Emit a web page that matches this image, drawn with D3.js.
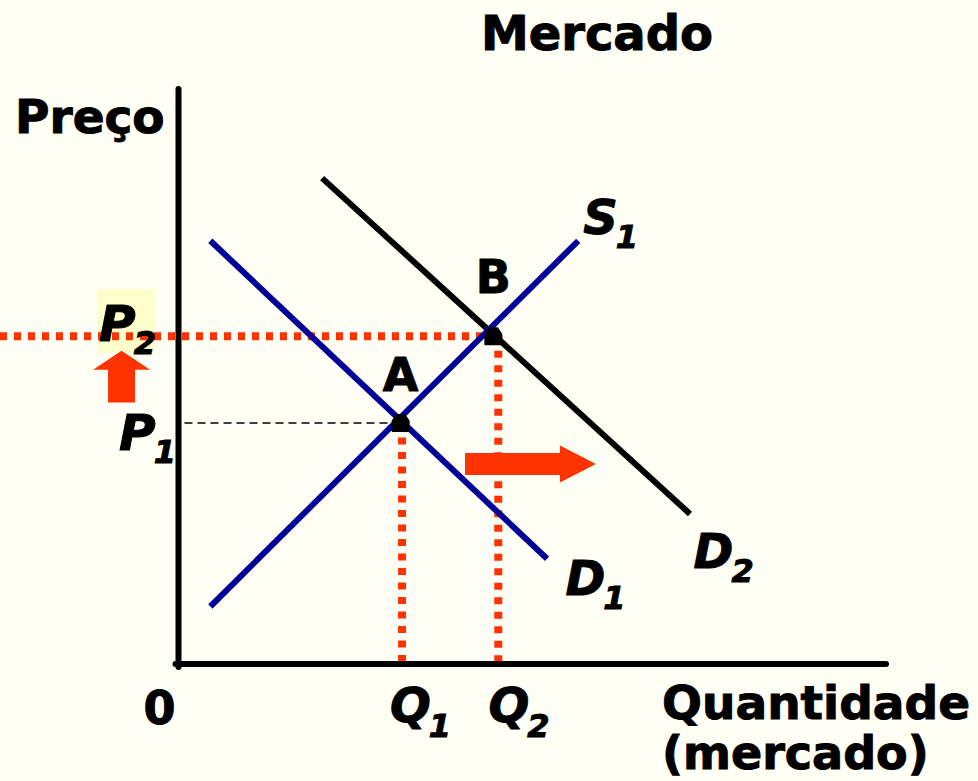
<!DOCTYPE html>
<html lang="pt">
<head>
<meta charset="UTF-8">
<title>Mercado</title>
<script src="https://d3js.org/d3.v7.min.js"></script>
<style>
  body { margin: 0; background: #fffff5; }
  text { font-family: "DejaVu Sans", Verdana, sans-serif; font-weight: bold; fill: #000; stroke: #000; stroke-width: 1; }
</style>
</head>
<body>
<svg width="978" height="781" id="mainsvg"></svg>
<script>
// curves in (quantity, price) units
const supply1 = [{q: 0.45, p: 1.0}, {q: 5.65, p: 7.36}];
const demand1 = [{q: 0.45, p: 7.36}, {q: 5.21, p: 1.83}];
const demand2 = [{q: 2.03, p: 8.45}, {q: 7.23, p: 2.61}];
// equilibria
const equilibria = [
  {name: 'A', q: 3.14, p: 4.19, qLine: 3.16},
  {name: 'B', q: 4.45, p: 5.7, qLine: 4.52}
];
const curveLabels = [
  {base: 'S', sub: '1', q: 5.72, p: 7.47},
  {base: 'D', sub: '1', q: 5.47, p: 1.2},
  {base: 'D', sub: '2', q: 7.28, p: 1.67}
];
const priceLabels = [{base: 'P', sub: '1', p: 3.72}, {base: 'P', sub: '2', p: 5.62}];
const qtyLabels = [{base: 'Q', sub: '1', q: 2.99}, {base: 'Q', sub: '2', q: 4.38}];
// shift arrows
const arrows = [
  {from: {q: 4.05, p: 3.48}, to: {q: 5.9, p: 3.48}},
  {from: {q: -0.805, p: 4.55}, to: {q: -0.805, p: 5.45}}
];

const svg = d3.select('#mainsvg');
const width = +svg.attr('width');
const height = +svg.attr('height');

svg.append('rect').attr('width', width).attr('height', height).attr('fill', '#fffff5');

const x = d3.scaleLinear().domain([0, 10]).range([178.5, 886]);
const y = d3.scaleLinear().domain([0, 10]).range([664, 89]);

const line = d3.line().x(d => x(d.q)).y(d => y(d.p));
const red = '#ff3300';

// highlight behind P2
const p2 = priceLabels[1];
svg.append('rect')
  .attr('x', 97).attr('y', y(p2.p) - 52)
  .attr('width', 58).attr('height', 64)
  .attr('fill', '#ffffcc');

// dotted guide lines
const A = equilibria[0], B = equilibria[1];
svg.append('line')
  .attr('x1', 0).attr('x2', x(B.q)).attr('y1', y(B.p)).attr('y2', y(B.p))
  .attr('stroke', red).attr('stroke-width', 8).attr('stroke-dasharray', '7,7');
svg.append('line')
  .attr('x1', x(0) + 6).attr('x2', x(A.q)).attr('y1', y(A.p)).attr('y2', y(A.p))
  .attr('stroke', '#000').attr('stroke-width', 1.5).attr('stroke-dasharray', '8,5');
equilibria.forEach(d => {
  svg.append('line')
    .attr('x1', x(d.qLine)).attr('x2', x(d.qLine)).attr('y1', y(d.p)).attr('y2', y(0))
    .attr('stroke', red).attr('stroke-width', 8).attr('stroke-dasharray', '7,7.5');
});

// axes
const xAxis = d3.axisBottom(x).tickValues([]).tickSizeOuter(0);
const yAxis = d3.axisLeft(y).tickValues([]).tickSizeOuter(0);
const gx = svg.append('g').attr('transform', `translate(0,${y(0)})`).call(xAxis);
const gy = svg.append('g').attr('transform', `translate(${x(0)},0)`).call(yAxis);
gy.select('.domain').attr('d', `M0,${y(10)}V${y(0) + 3}`);
gx.select('.domain').attr('d', `M${x(0) - 3},0H${x(10)}`);
svg.selectAll('.domain').attr('stroke', '#000').attr('stroke-width', 6).attr('stroke-linecap', 'round');

// curves
svg.append('path').attr('d', line(demand2)).attr('stroke', '#000').attr('stroke-width', 6).attr('fill', 'none');
svg.append('path').attr('d', line(supply1)).attr('stroke', '#000099').attr('stroke-width', 6).attr('fill', 'none');
svg.append('path').attr('d', line(demand1)).attr('stroke', '#000099').attr('stroke-width', 6).attr('fill', 'none');

// equilibrium dots
equilibria.forEach(d => {
  const cx = x(d.q), cy = y(d.p);
  svg.append('path')
    .attr('d', `M${cx - 8},${cy + 8}L${cx - 8},${cy - 2}L${cx - 4},${cy - 8}L${cx + 4},${cy - 8}L${cx + 8},${cy - 2}L${cx + 8},${cy + 8}Z`)
    .attr('fill', '#000').attr('stroke', '#000').attr('stroke-width', 2).attr('stroke-linejoin', 'round');
  svg.append('text').text(d.name)
    .attr('x', cx).attr('y', cy - (d.name === 'A' ? 32 : 43))
    .attr('text-anchor', 'middle').attr('font-size', 46);
});

// arrows
arrows.forEach(a => {
  const x1 = x(a.from.q), y1 = y(a.from.p), x2 = x(a.to.q), y2 = y(a.to.p);
  const len = Math.hypot(x2 - x1, y2 - y1);
  const ux = (x2 - x1) / len, uy = (y2 - y1) / len;
  const nx = -uy, ny = ux;
  const isUp = Math.abs(uy) > Math.abs(ux);
  const bw = isUp ? 13.5 : 11, hw = isUp ? 28.5 : 18.5, hl = isUp ? 19 : 36;
  const bx = x2 - ux * hl, by = y2 - uy * hl;
  const pts = [
    [x1 + nx * bw, y1 + ny * bw], [bx + nx * bw, by + ny * bw], [bx + nx * hw, by + ny * hw],
    [x2, y2], [bx - nx * hw, by - ny * hw], [bx - nx * bw, by - ny * bw], [x1 - nx * bw, y1 - ny * bw]
  ];
  svg.append('path').attr('d', 'M' + pts.map(p => p.join(',')).join('L') + 'Z').attr('fill', red);
});

// labels with subscript
function subLabel(base, sub, px, py, size, subSize, subDy) {
  const t = svg.append('text').attr('x', px).attr('y', py)
    .attr('font-size', size).attr('font-style', 'italic');
  t.append('tspan').text(base);
  t.append('tspan').text(sub).attr('font-size', subSize).attr('dy', subDy).attr('dx', -2);
}
curveLabels.forEach(d => subLabel(d.base, d.sub, x(d.q), y(d.p), 48, 32, 14));
priceLabels.forEach(d => subLabel(d.base, d.sub, d.sub === '1' ? 119 : 99, y(d.p), 50, 32, 13));
qtyLabels.forEach(d => subLabel(d.base, d.sub, x(d.q), 722, 48, 32, 15));

svg.append('text').text('0').attr('x', x(0) - 3).attr('y', 724).attr('text-anchor', 'end').attr('font-size', 46);
svg.append('text').text('Mercado').attr('x', 597).attr('y', 50).attr('text-anchor', 'middle').attr('font-size', 48);
svg.append('text').text('Preço').attr('x', 15).attr('y', 133).attr('font-size', 47);
svg.append('text').text('Quantidade').attr('x', 662).attr('y', 719).attr('font-size', 47);
svg.append('text').text('(mercado)').attr('x', 662).attr('y', 769).attr('font-size', 46);
</script>
</body>
</html>
